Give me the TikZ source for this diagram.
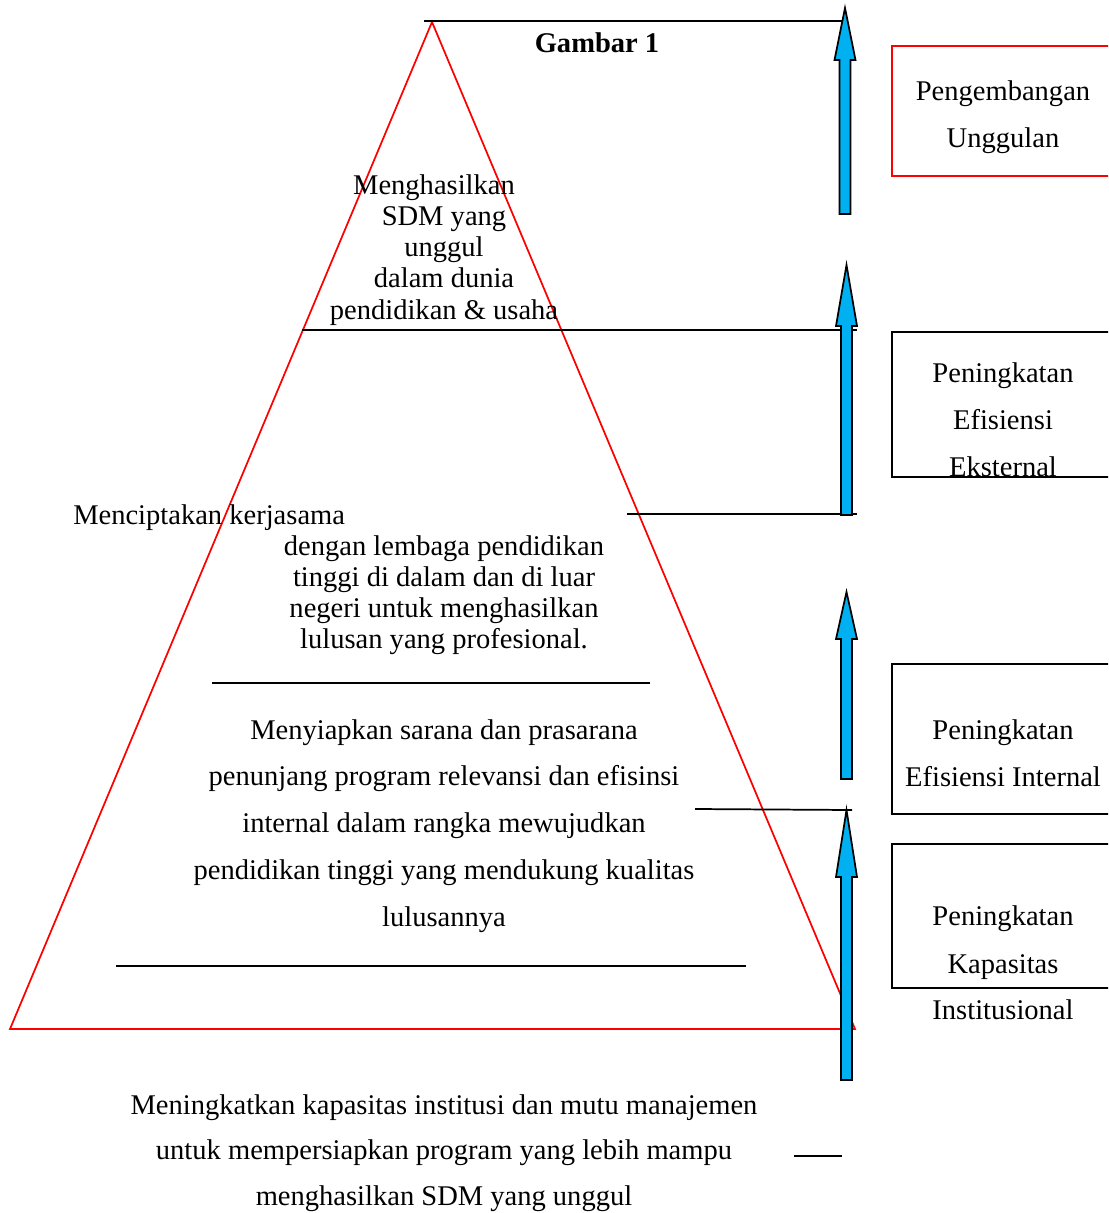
\documentclass[tikz,border=0pt]{standalone}
\usepackage{fontspec}
\setmainfont{Liberation Serif}
\definecolor{arrowblue}{HTML}{00B0F0}
\newcommand\drawblockarrow[4]{%
  \draw[blockarrow] (#1-5.5,#4) -- (#1-5.5,#3) -- (#1-10.5,#3) -- (#1,#2) -- (#1+10.5,#3) -- (#1+5.5,#3) -- (#1+5.5,#4) -- cycle;}
\begin{document}
\begin{tikzpicture}[x=0.75pt,y=-0.75pt,
  txt/.style={anchor=base,inner sep=0pt,font=\fontsize{21.4}{24}\selectfont},
  rule/.style={line width=1.3pt,black},
  tri/.style={draw=red,line width=1.3pt,line join=miter},
  blockarrow/.style={draw=black,fill=arrowblue,line width=1.3pt,line join=miter},
  box/.style={draw=black,line width=1.3pt},
  redbox/.style={draw=red,line width=1.6pt}]
\useasboundingbox (0,0) rectangle (1108,1213);
\clip (0,0) rectangle (1108,1213);
% pyramid
\draw[tri] (432,22) -- (10,1029) -- (855,1029) -- cycle;
% horizontal rules
\draw[rule] (424,21) -- (845,21);
\draw[rule] (302,330) -- (857,330);
\draw[rule] (627,514) -- (857,514);
\draw[rule] (212,683) -- (650,683);
\draw[rule] (695,809) -- (852,810);
\draw[rule] (116,966) -- (746,966);
\draw[rule] (794,1156) -- (842,1156);
% block arrows
\drawblockarrow{845}{8}{60}{214}
\drawblockarrow{846.5}{265}{326}{515}
\drawblockarrow{846.5}{592}{639}{779}
\drawblockarrow{846.5}{810}{877}{1080}
% right boxes
\draw[redbox] (892,46) rectangle (1125,176);
\draw[box] (892,332) rectangle (1125,477);
\draw[box] (892,664) rectangle (1125,814);
\draw[box] (892,844) rectangle (1125,988);
% title
\node[txt,font=\fontsize{21.4}{24}\selectfont\bfseries] (title) at (597,53) {Gambar 1};
% pyramid texts
\foreach \t/\xx [count=\i] in {Menghasilkan/434, SDM yang/444, unggul/444, dalam dunia/444, pendidikan \& usaha/444}
  \node[txt] (top\i) at (\xx,{194+31.3*(\i-1)}) {\t};
\node[txt,anchor=base west] (mid0) at (73,524) {Menciptakan kerjasama};
\foreach \t [count=\i] in {dengan lembaga pendidikan, tinggi di dalam dan di luar, negeri untuk menghasilkan, lulusan yang profesional.}
  \node[txt] (mid\i) at (444,{555+31*(\i-1)}) {\t};
\foreach \t [count=\i] in {Menyiapkan sarana dan prasarana, penunjang program relevansi dan efisinsi, internal dalam rangka mewujudkan, pendidikan tinggi yang mendukung kualitas, lulusannya}
  \node[txt] (low\i) at (444,{739+46.8*(\i-1)}) {\t};
\foreach \t [count=\i] in {Meningkatkan kapasitas institusi dan mutu manajemen, untuk mempersiapkan program yang lebih mampu, menghasilkan SDM yang unggul}
  \node[txt] (base\i) at (444,{1114+45.5*(\i-1)}) {\t};
% box texts
\node[txt] (b1a) at (1003,100) {Pengembangan};
\node[txt] (b1b) at (1003,147) {Unggulan};
\node[txt] (b2a) at (1003,382) {Peningkatan};
\node[txt] (b2b) at (1003,429) {Efisiensi};
\node[txt] (b2c) at (1003,476) {Eksternal};
\node[txt] (b3a) at (1003,739) {Peningkatan};
\node[txt] (b3b) at (1003,786) {Efisiensi Internal};
\node[txt] (b4a) at (1003,925) {Peningkatan};
\node[txt] (b4b) at (1003,973) {Kapasitas};
\node[txt] (b4c) at (1003,1019) {Institusional};
\end{tikzpicture}
\end{document}
